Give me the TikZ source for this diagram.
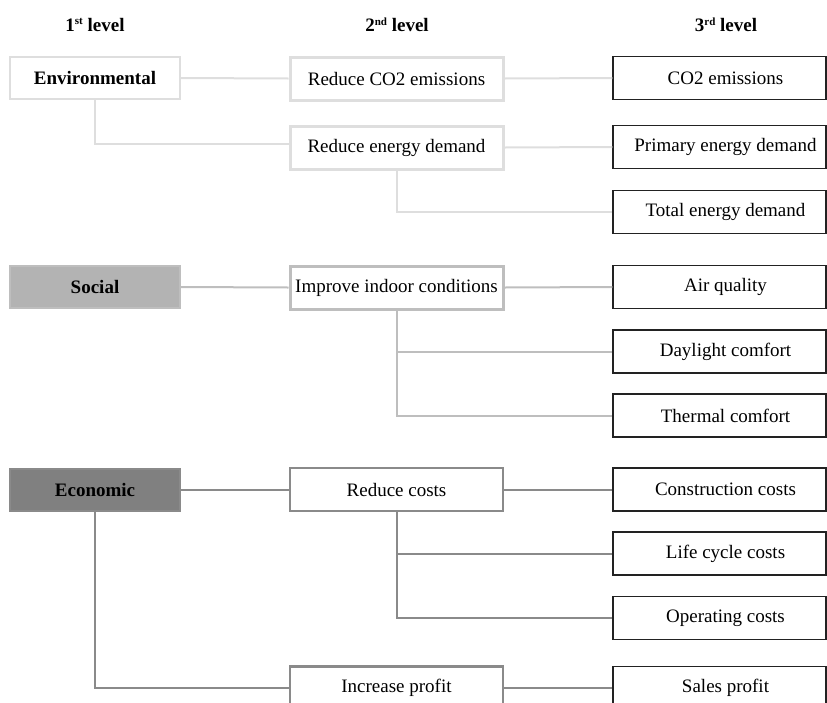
\documentclass[tikz,border=0pt]{standalone}
\usepackage{fontspec}
\setmainfont{Liberation Serif}
\definecolor{envline}{HTML}{DEDEDE}
\definecolor{socline}{HTML}{BEBEBE}
\definecolor{socfill}{HTML}{B3B3B3}
\definecolor{ecoline}{HTML}{8A8A8A}
\definecolor{ecofill}{HTML}{808080}
\definecolor{boxedge}{HTML}{222222}
% small raised ordinal suffix
\newcommand{\ordsuf}[1]{\raisebox{0.75ex}{\fontsize{11}{11}\selectfont #1}}
\tikzset{
  txt/.style={font=\fontsize{19}{22}\selectfont},
  head/.style={txt, font=\fontsize{19}{22}\selectfont\bfseries},
  lone/.style={txt, font=\fontsize{19}{22}\selectfont\bfseries, minimum width=170pt, minimum height=42pt, inner sep=0pt},
  ltwo/.style={txt, minimum width=213pt, minimum height=43pt, inner sep=0pt},
  lthree/.style={txt, draw=boxedge, line width=1.5pt, minimum width=213pt, minimum height=43pt, inner sep=0pt,
    execute at begin node=\hspace*{12pt}},
  envbox/.style={draw=envline, line width=2pt},
  envtwo/.style={draw=envline, line width=3pt},
  socbox/.style={draw=socline, fill=socfill, line width=2pt},
  soctwo/.style={draw=socline, line width=3pt},
  ecobox/.style={draw=ecoline, fill=ecofill, line width=2pt},
  ecotwo/.style={draw=ecoline, line width=2.5pt},
  envwire/.style={draw=envline, line width=2pt},
  socwire/.style={draw=socline, line width=2pt},
  ecowire/.style={draw=ecoline, line width=2pt},
}
\begin{document}
\begin{tikzpicture}[x=1pt, y=-1pt]
\clip (0,0) rectangle (827,702);
\useasboundingbox (0,0) rectangle (827,702);

% column headings
\node[head] (h1) at (95,25) {1\ordsuf{st} level};
\node[head] (h2) at (397,25) {2\ordsuf{nd} level};
\node[head] (h3) at (726,25) {3\ordsuf{rd} level};

% environmental branch
\node[lone, envbox] (env) at (95,78) {Environmental};
\node[ltwo, envtwo] (co2red) at (396.5,78.5) {Reduce CO2 emissions};
\node[ltwo, envtwo] (enred) at (396.5,147.5) {Reduce energy demand};
\node[lthree] (co2) at (719.5,78) {CO2 emissions};
\node[lthree] (prim) at (719.5,147) {Primary energy demand};
\node[lthree] (tot) at (719.5,212) {Total energy demand};

\draw[envwire] (env.east) -- (co2red.west);
\draw[envwire] (env.south) |- ([yshift=4pt]enred.west);
\draw[envwire] (co2red.east) -- (co2.west);
\draw[envwire] (enred.east) -- (prim.west);
\draw[envwire] (enred.south) |- (tot.west);

% social branch
\node[lone, socbox] (soc) at (95,287) {Social};
\node[ltwo, soctwo] (indoor) at (396.5,287.5) {Improve indoor conditions};
\node[lthree] (air) at (719.5,287) {Air quality};
\node[lthree] (day) at (719.5,351.5) {Daylight comfort};
\node[lthree] (therm) at (719.5,415.5) {Thermal comfort};

\draw[socwire] (soc.east) -- (indoor.west);
\draw[socwire] (indoor.east) -- (air.west);
\draw[socwire] (indoor.south) |- (day.west);
\draw[socwire] (indoor.south) |- (therm.west);

% economic branch
\node[lone, ecobox] (eco) at (95,489.5) {Economic};
\node[ltwo, ecotwo] (costs) at (396.5,489.5) {Reduce costs};
\node[ltwo, ecotwo] (profit) at (396.5,688) {Increase profit};
\node[lthree] (constr) at (719.5,489.5) {Construction costs};
\node[lthree] (life) at (719.5,553.5) {Life cycle costs};
\node[lthree] (oper) at (719.5,618) {Operating costs};
\node[lthree] (sales) at (719.5,688) {Sales profit};

\draw[ecowire] (eco.east) -- (costs.west);
\draw[ecowire] (eco.south) |- (profit.west);
\draw[ecowire] (costs.east) -- (constr.west);
\draw[ecowire] (costs.south) |- (life.west);
\draw[ecowire] (costs.south) |- (oper.west);
\draw[ecowire] (profit.east) -- (sales.west);
\end{tikzpicture}
\end{document}
